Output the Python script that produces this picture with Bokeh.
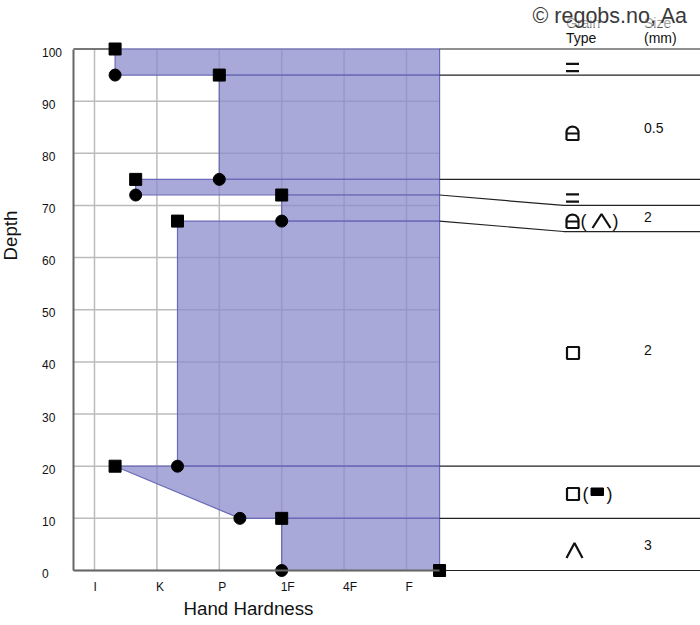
from bokeh.plotting import figure
from bokeh.models import Label, LinearAxis, Range1d, FixedTicker
from bokeh.core.properties import value
from bokeh.embed import file_html
from bokeh.resources import INLINE

# --- data ---
hardness_ticks = [1, 2, 3, 4, 5, 6]
hardness_labels = ["I", "K", "P", "1F", "4F", "F"]
depth_ticks = list(range(0, 101, 10))
depth_labels = [str(d) for d in depth_ticks]

layer_top = [100, 95, 75, 72, 67, 20, 10]
layer_bottom = [95, 75, 72, 67, 20, 10, 0]
hard_top = [1.33, 3.0, 1.66, 4.0, 2.33, 1.33, 4.0]
hard_bottom = [1.33, 3.0, 1.66, 4.0, 2.33, 3.33, 4.0]
hard_max = 6.53

line_depth = [100, 95, 75, 72, 67, 20, 10, 0]
line_table_depth = [100, 95, 75, 70, 65, 20, 10, 0]

size_text = ["0.5", "2", "2", "3"]
size_depth = [84.8, 67.7, 42.2, 4.8]

# --- pixel geometry of the frame ---
W, H = 700, 625
PX = 62.4     # pixels per hardness step
PY = 5.215    # pixels per depth unit
FONT = "Liberation Sans"


def hx(px):
    return 1 + (px - 94) / PX


def dy(py):
    return (570 - py) / PY


X_LEFT = hx(73)
X_RIGHT = hx(W)
X_BREAK = hx(563)

p = figure(width=W, height=H, output_backend="svg", toolbar_location=None,
           x_range=Range1d(hx(0), hx(W)), y_range=Range1d(dy(H), dy(0)),
           x_axis_type=None, y_axis_type=None,
           min_border_left=0, min_border_right=0, min_border_top=0, min_border_bottom=0)
p.outline_line_color = None
p.background_fill_color = "white"
p.border_fill_color = "white"

# grid lines stop at the chart area, so they are segments rather than a Grid
p.segment(hardness_ticks, [0] * len(hardness_ticks), hardness_ticks, [100] * len(hardness_ticks),
          line_color="#bbbbbb", line_width=1.5)
p.segment([X_LEFT] * len(depth_ticks), depth_ticks, [hard_max] * len(depth_ticks), depth_ticks,
          line_color="#bbbbbb", line_width=1.5)

# axis rules (labels sit left of their ticks, so they are drawn as text below)
xaxis = LinearAxis(fixed_location=0, bounds=(X_LEFT, hard_max),
                   ticker=FixedTicker(ticks=[]),
                   major_tick_line_color=None, minor_tick_line_color=None,
                   axis_line_color="#666666", axis_line_width=2)
p.add_layout(xaxis, "below")
yaxis = LinearAxis(fixed_location=X_LEFT, bounds=(0, 100),
                   ticker=FixedTicker(ticks=[]),
                   major_tick_line_color=None, minor_tick_line_color=None,
                   axis_line_color="#666666", axis_line_width=2)
p.add_layout(yaxis, "left")

# tick labels
p.text([hx(41.5)] * len(depth_ticks), depth_ticks, text=depth_labels, text_font=value(FONT),
       text_font_size="12px", text_color="#111111", text_align="left", text_baseline="middle", y_offset=3)
p.text(hardness_ticks, [0] * len(hardness_ticks), text=hardness_labels, text_font=value(FONT),
       text_font_size="12px", text_color="#111111", text_align="left", text_baseline="middle",
       x_offset=-1, y_offset=16)

# layer polygons
xs = [[t, hard_max, hard_max, b] for t, b in zip(hard_top, hard_bottom)]
ys = [[top, top, bot, bot] for top, bot in zip(layer_top, layer_bottom)]
p.patches(xs, ys, fill_color="#8b8bcc", fill_alpha=0.75, line_color="#6a6ab8", line_width=1.2)

# layer lines out to the table
p.multi_line([[hard_max, X_BREAK, X_RIGHT] for _ in line_depth],
             [[a, b, b] for a, b in zip(line_depth, line_table_depth)],
             line_color="#222222", line_width=1.2)
p.line([X_LEFT, hard_top[0]], [100, 100], line_color="#222222", line_width=1.2)

# markers
p.scatter(hard_top + [hard_max], layer_top + [0], marker="square", size=12, color="black")
p.scatter(hard_bottom, layer_bottom, marker="circle", size=12, color="black")

# table text
p.text([hx(565.5)] * 2, [dy(22), dy(37)], text=["Grain", "Type"], text_font=value(FONT),
       text_font_size="14px", text_color="#111111", text_baseline="middle")
p.text([hx(643.5)] * 2, [dy(22), dy(37.5)], text=["Size", "(mm)"], text_font=value(FONT),
       text_font_size="14px", text_color="#111111", text_baseline="middle")
p.text([hx(643.5)] * len(size_text), size_depth, text=size_text, text_font=value(FONT),
       text_font_size="14px", text_color="#111111", text_baseline="middle")


# grain symbols, drawn around a pixel centre
def stroke(pts, w=2.2):
    p.line([hx(a) for a, _ in pts], [dy(b) for _, b in pts], line_color="#111111", line_width=w)


def equal(cx, cy):
    stroke([(cx - 6.5, cy - 3.7), (cx + 6.5, cy - 3.7)])
    stroke([(cx - 6.5, cy + 3.7), (cx + 6.5, cy + 3.7)])


def rounded(cx, cy):
    stroke([(cx - 6, cy + 6.5), (cx - 6, cy - 2), (cx - 5, cy - 4.5), (cx - 3, cy - 6.3), (cx, cy - 7),
            (cx + 3, cy - 6.3), (cx + 5, cy - 4.5), (cx + 6, cy - 2), (cx + 6, cy + 6.5), (cx - 6, cy + 6.5)])
    stroke([(cx - 6, cy), (cx + 6, cy)])


def square(cx, cy):
    stroke([(cx - 6, cy - 6), (cx + 6, cy - 6), (cx + 6, cy + 6), (cx - 6, cy + 6), (cx - 6, cy - 6)])


def caret(cx, cy, w=8, h=7.5):
    stroke([(cx - w, cy + h), (cx, cy - h), (cx + w, cy + h)])


equal(572, 67)
rounded(572, 133)
equal(572, 197.5)
rounded(572, 221)
caret(601, 220.5, 9, 7)
square(572.5, 352.5)
square(572.5, 493.5)
caret(574, 550)
p.quad(left=[hx(590.5)], right=[hx(603)], top=[dy(487.5)], bottom=[dy(495)], color="black")
p.text([hx(583), hx(615), hx(585), hx(609)], [dy(220), dy(220), dy(493), dy(493)],
       text=["(", ")", "(", ")"], text_font=value(FONT), text_font_size="18px",
       text_color="#111111", text_align="center", text_baseline="middle")

# titles
p.add_layout(Label(x=248, y=H - 608, x_units="screen", y_units="screen",
                   text="Hand Hardness", text_font=FONT, text_font_size="18.7px", text_color="#111111",
                   text_align="center", text_baseline="middle"))
p.add_layout(Label(x=10, y=H - 235, x_units="screen", y_units="screen", angle=90, angle_units="deg",
                   text="Depth", text_font=FONT, text_font_size="18.7px", text_color="#111111",
                   text_align="center", text_baseline="middle"))
# watermark
p.add_layout(Label(x=532, y=H - 15, x_units="screen", y_units="screen",
                   text="\u00a9 regobs.no, Aa", text_font=FONT, text_font_size="21.5px", text_color="#3a3a3a",
                   text_align="left", text_baseline="middle",
                   background_fill_color="white", background_fill_alpha=0.6))

open("out.html", "w").write(file_html(p, INLINE))
